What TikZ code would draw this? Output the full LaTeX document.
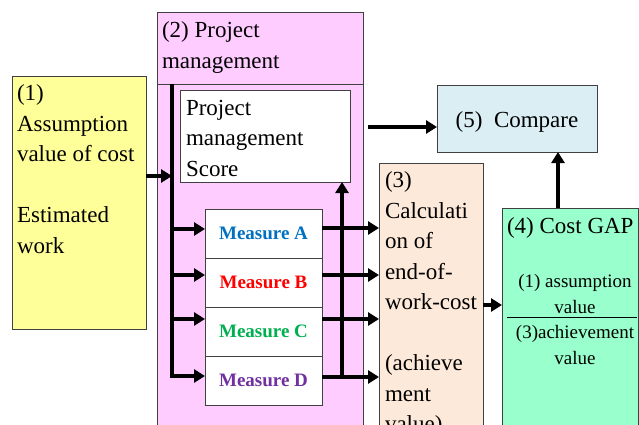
\documentclass[tikz,border=0pt]{standalone}
\usepackage{fontspec}
\setmainfont{Liberation Serif}
\usetikzlibrary{arrows.meta,calc}
\definecolor{cyellow}{HTML}{FFFF99}
\definecolor{cpink}{HTML}{FFCCFF}
\definecolor{cblue}{HTML}{DAEEF3}
\definecolor{cpeach}{HTML}{FDE9D9}
\definecolor{cgreen}{HTML}{99FFCC}
\definecolor{mA}{HTML}{0070C0}
\definecolor{mB}{HTML}{FF0000}
\definecolor{mC}{HTML}{00B050}
\definecolor{mD}{HTML}{7030A0}
\definecolor{cborder}{HTML}{404040}
\newcommand\mybig{\fontsize{23}{30.5}\selectfont}
\newcommand\mysmall{\fontsize{19}{26}\selectfont}
\newcommand\mymeas{\fontsize{19}{22}\selectfont\bfseries}
\tikzset{
  box/.style={draw=cborder, line width=0.8pt, inner sep=0pt, outer sep=0pt, anchor=north west},
  txt/.style={inner sep=0pt, outer sep=0pt, anchor=north west, align=left, font=\mybig},
  measbox/.style={box, fill=white, minimum width=117pt, minimum height=49pt, font=\mymeas},
  arr/.style={line width=3.8pt, -{Triangle[length=11pt,width=13pt]}},
  spine/.style={line width=3.8pt},
}
\begin{document}
\begin{tikzpicture}[x=1pt,y=-1pt]
\useasboundingbox (0,0) rectangle (639,425);
\clip (0,0) rectangle (639,425);
\fill[white] (0,0) rectangle (639,425);

% boxes
\node[box, fill=cyellow, minimum width=134pt, minimum height=253pt] (yel) at (12,76) {};
\node[box, fill=cpink, minimum width=206pt, minimum height=440pt] (pink) at (157,12) {};
\draw[draw=cborder, line width=0.8pt] (157,84) coordinate (hdrL) -- (363,84) coordinate (hdrR);
\node[box, fill=white, minimum width=170pt, minimum height=92pt] (score) at (180,90) {};
\node[measbox, text=mA] (ma) at (205,209) {Measure A};
\node[measbox, text=mB] (mb) at (205,258) {Measure B};
\node[measbox, text=mC] (mc) at (205,307) {Measure C};
\node[measbox, text=mD] (md) at (205,356) {Measure D};
\node[box, fill=cblue, minimum width=160pt, minimum height=67pt] (cmp) at (437,85) {};
\node[box, fill=cpeach, minimum width=104pt, minimum height=290pt] (calc) at (379,163) {};
\node[box, fill=cgreen, minimum width=136pt, minimum height=250pt] (gap) at (502,208) {};

% texts
\node[inner sep=0pt, font=\mybig] (t5) at (517,121.5) {(5)\ \ Compare};
\node[txt] (t1) at (17,85) {(1)\\Assumption\\value of cost\\~\\Estimated\\work};
\node[txt] (t2) at (162,22) {(2) Project\\management};
\node[txt] (tscore) at (186,100) {Project\\management\\Score};
\node[txt] (t3) at (385,172) {(3)\\Calculati\\on of\\end-of-\\work-cost\\~\\(achieve\\ment\\value)};
\node[txt] (t4) at (507,218) {(4) Cost GAP};
\node[inner sep=0pt, anchor=north, align=center, font=\mysmall] (num) at (575,274) {(1) assumption\\value};
\node[inner sep=0pt, anchor=north, align=center, font=\mysmall] (den) at (575,325) {(3)achievement\\value};
\draw[line width=0.8pt] (507,317) coordinate (fracL) -- (637,317) coordinate (fracR);

% coordinates for connectors
\coordinate (spTop) at (172,84);
\coordinate (j0) at (172,176);
\coordinate (la) at (172,229);
\coordinate (lb) at (172,275);
\coordinate (lc) at (172,319);
\coordinate (ld) at (172,376);
\coordinate (ra) at (0,228);
\coordinate (rb) at (0,275);
\coordinate (rc) at (0,319);
\coordinate (rd) at (0,377);
\coordinate (upx) at (342,0);
\coordinate (cmpStart) at (368,127);
\coordinate (y34) at (0,305);
\coordinate (x45) at (558,0);

% spine and branches
\draw[spine] (spTop) -- (ld);
\draw[arr] (yel.east |- j0) -- (j0);
\draw[arr] (la) -- (la -| ma.west);
\draw[arr] (lb) -- (lb -| mb.west);
\draw[arr] (lc) -- (lc -| mc.west);
\draw[arr, line join=miter] ([yshift=1.9pt]ld) -- (ld) -- (ld -| md.west);

% outputs of measures
\draw[arr] (ma.east |- ra) -- (calc.west |- ra);
\draw[arr] (mb.east |- rb) -- (calc.west |- rb);
\draw[arr] (mc.east |- rc) -- (calc.west |- rc);
\draw[arr] (md.east |- rd) -- (calc.west |- rd);
\draw[arr] (upx |- rd) -- (upx |- score.south);

% right side
\draw[arr] (cmpStart) -- (cmpStart -| cmp.west);
\draw[arr] (calc.east |- y34) -- (gap.west |- y34);
\draw[arr] (x45 |- gap.north) -- (x45 |- cmp.south);
\end{tikzpicture}
\end{document}
